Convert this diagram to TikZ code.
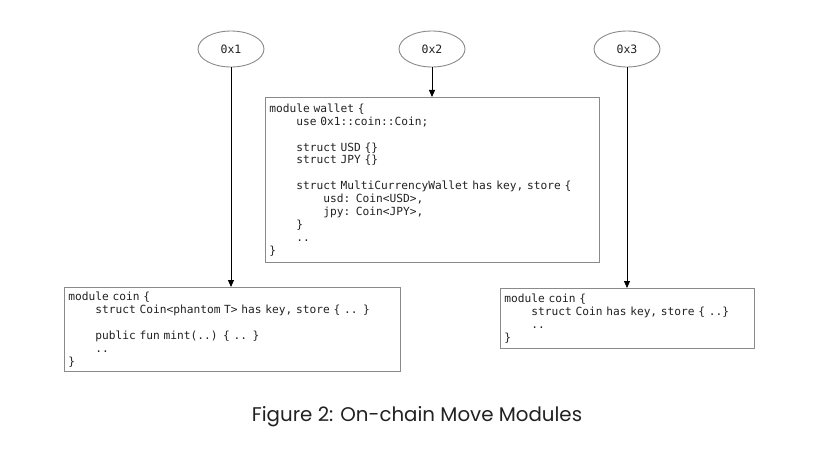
\documentclass[tikz,border=0pt]{standalone}
\usepackage{fontspec}
\setmainfont{Poppins}
\newfontfamily\codefont{DejaVu Sans Mono}
\usetikzlibrary{shapes.geometric,arrows.meta}
\definecolor{boxgray}{HTML}{8A8A8A}
\definecolor{codetext}{HTML}{222222}
\newcommand\tb{\phantom{0000}}
\newcommand\codesize{\fontsize{11.2pt}{12.9pt}\selectfont}
\tikzset{
  codebox/.style={draw=boxgray, line width=0.9pt, anchor=north west, align=left,
    inner xsep=4pt, inner ysep=3pt, font=\codefont\codesize, text=codetext},
  addr/.style={ellipse, draw=boxgray, line width=0.9pt, minimum width=66pt, minimum height=36pt,
    inner sep=0pt, font=\codefont\fontsize{11.5pt}{13pt}\selectfont, text=codetext},
  link/.style={-{Triangle[length=7pt,width=6pt]}, line width=0.9pt, black}
}
\begin{document}
\begin{tikzpicture}[x=1pt,y=-1pt]
\useasboundingbox (0,0) rectangle (828,452);
\fill[white] (0,0) rectangle (828,452);
\node[addr] (e1) at (231,49) {0x1};
\node[addr] (e2) at (432,49) {0x2};
\node[addr] (e3) at (627,49) {0x3};
\node[codebox, text width=326pt, minimum height=165pt] (wallet) at (265,97) {module wallet \{\\
\tb use 0x1::coin::Coin;\\
\strut\\
\tb struct USD \{\}\\
\tb struct JPY \{\}\\
\strut\\
\tb struct MultiCurrencyWallet has key, store \{\\
\tb\tb usd: Coin<USD>,\\
\tb\tb jpy: Coin<JPY>,\\
\tb \}\\
\tb ..\\
\}};
\node[codebox, text width=328pt, minimum height=84pt] (coina) at (64,287) {module coin \{\\
\tb struct Coin<phantom T> has key, store \{ .. \}\\
\strut\\
\tb public fun mint(..) \{ .. \}\\
\tb ..\\
\}};
\node[codebox, text width=246pt, minimum height=60pt] (coinb) at (500,288) {module coin \{\\
\tb struct Coin has key, store \{ ..\}\\
\tb ..\\
\}};
\draw[link] (e1.south) -- (e1.south |- coina.north);
\draw[link] (e2.south) -- (e2.south |- wallet.north);
\draw[link] (e3.south) -- (e3.south |- coinb.north);
\node[font=\fontsize{19.8pt}{23pt}\selectfont, text=codetext] (caption) at (417,417) {Figure 2: On-chain Move Modules};
\end{tikzpicture}
\end{document}
